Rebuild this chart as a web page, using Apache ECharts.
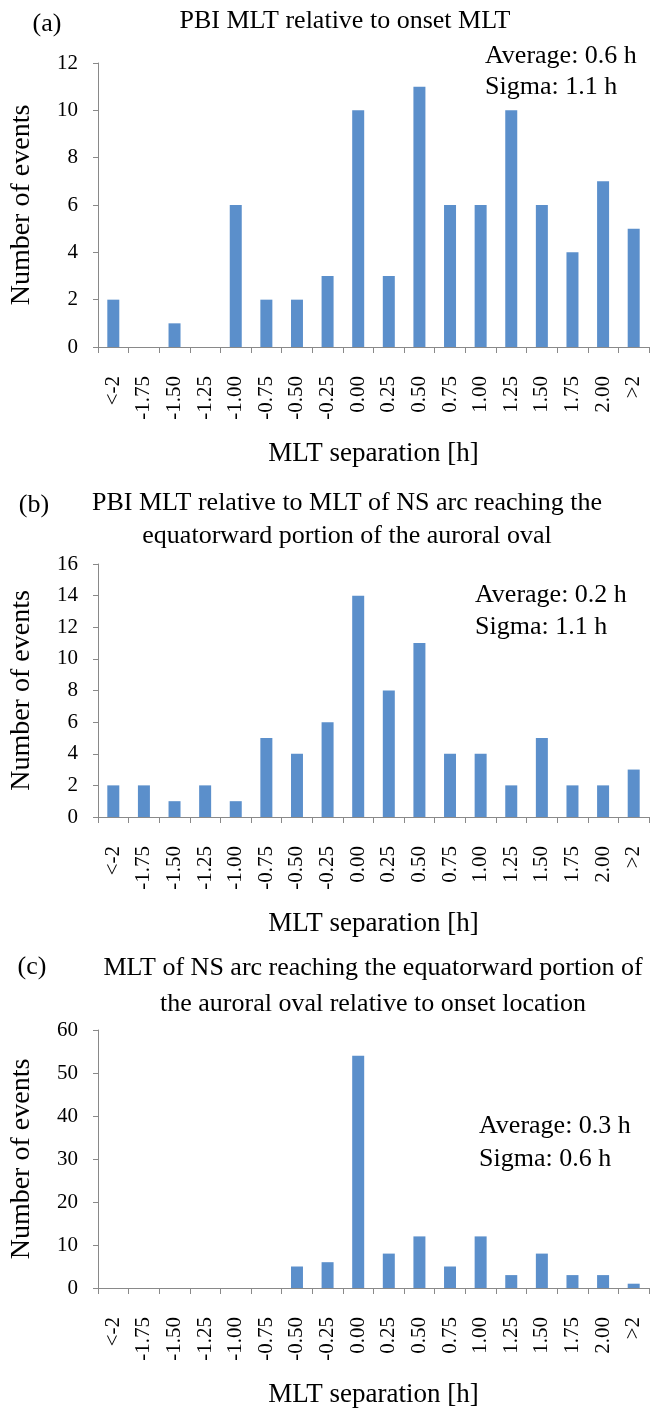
<!DOCTYPE html>
<html>
<head>
<meta charset="utf-8">
<script src="https://cdn.jsdelivr.net/npm/echarts@6/dist/echarts.min.js"></script>
<style>
html,body{margin:0;padding:0;background:#fff;}
#chart{width:653px;height:1409px;}
</style>
</head>
<body>
<div id="chart"></div>
<script>
const categories = ['<-2','-1.75','-1.50','-1.25','-1.00','-0.75','-0.50','-0.25','0.00','0.25','0.50','0.75','1.00','1.25','1.50','1.75','2.00','>2'];
const valuesA = [2,0,1,0,6,2,2,3,10,3,11,6,6,10,6,4,7,5];
const valuesB = [2,2,1,2,1,5,4,6,14,8,11,4,4,2,5,2,2,3];
const valuesC = [0,0,0,0,0,0,5,6,54,8,12,5,12,3,8,3,3,1];
const titleA = 'PBI MLT relative to onset MLT';
const titleB = 'PBI MLT relative to MLT of NS arc reaching the\nequatorward portion of the auroral oval';
const titleC = 'MLT of NS arc reaching the equatorward portion of\nthe auroral oval relative to onset location';
const statsA = ['Average: 0.6 h','Sigma: 1.1 h'];
const statsB = ['Average: 0.2 h','Sigma: 1.1 h'];
const statsC = ['Average: 0.3 h','Sigma: 0.6 h'];
const yMax = [12,16,60];
const yStep = [2,2,10];

const FONT = 'Liberation Serif';
const AXIS_COLOR = '#898989';
const BAR_COLOR = '#5B8FCB';

const grids = [
  {left:97, right:4, top:63, height:284},
  {left:97, right:4, top:564, height:253},
  {left:97, right:4, top:1030, height:258}
];
const seriesData = [valuesA, valuesB, valuesC];

const xAxes = grids.map((g,i)=>({
  type:'category', gridIndex:i, data:categories,
  axisLine:{lineStyle:{color:AXIS_COLOR,width:1}},
  axisTick:{show:true,length:6,lineStyle:{color:AXIS_COLOR}},
  axisLabel:{rotate:90,margin:29,color:'#000',fontFamily:FONT,fontSize:21,interval:0},
  name:'MLT separation [h]', nameLocation:'middle', nameGap:93,
  nameTextStyle:{color:'#000',fontFamily:FONT,fontSize:27}
}));
const yAxes = grids.map((g,i)=>({
  type:'value', gridIndex:i, min:0, max:yMax[i], interval:yStep[i],
  axisLine:{show:true,lineStyle:{color:AXIS_COLOR,width:1}},
  axisTick:{show:true,length:5,lineStyle:{color:AXIS_COLOR}},
  splitLine:{show:false},
  axisLabel:{margin:20,color:'#000',fontFamily:FONT,fontSize:21},
  name:'Number of events', nameLocation:'middle', nameGap:62,
  nameTextStyle:{color:'#000',fontFamily:FONT,fontSize:28}
}));
const series = seriesData.map((d,i)=>({
  type:'bar', xAxisIndex:i, yAxisIndex:i, data:d, barWidth:12,
  itemStyle:{color:BAR_COLOR}, silent:true
}));

function txt(text,x,y,size,align,lh){
  return {type:'text', silent:true, style:{text:text,x:x,y:y,fill:'#000',
    font:size+'px "'+FONT+'"', align:align||'left', verticalAlign:'middle',
    textAlign:align||'left', textVerticalAlign:'middle', lineHeight:lh||size}};
}
const graphics = [
  txt('(a)',47,24,26,'center'),
  txt(titleA,345,21,26,'center'),
  txt(statsA.join('\n'),485,72,26,'left',31),
  txt('(b)',34,505,26,'center'),
  txt(titleB,347,520,26,'center',33),
  txt(statsB.join('\n'),475,611,26,'left',32),
  txt('(c)',32,967,26,'center'),
  txt(titleC,373,986,26,'center',36),
  txt(statsC.join('\n'),479,1143,26,'left',33)
];

const chart = echarts.init(document.getElementById('chart'),null,{renderer:'canvas'});
chart.setOption({
  animation:false,
  backgroundColor:'#fff',
  grid:grids,
  xAxis:xAxes,
  yAxis:yAxes,
  series:series,
  graphic:graphics
});
</script>
</body>
</html>
